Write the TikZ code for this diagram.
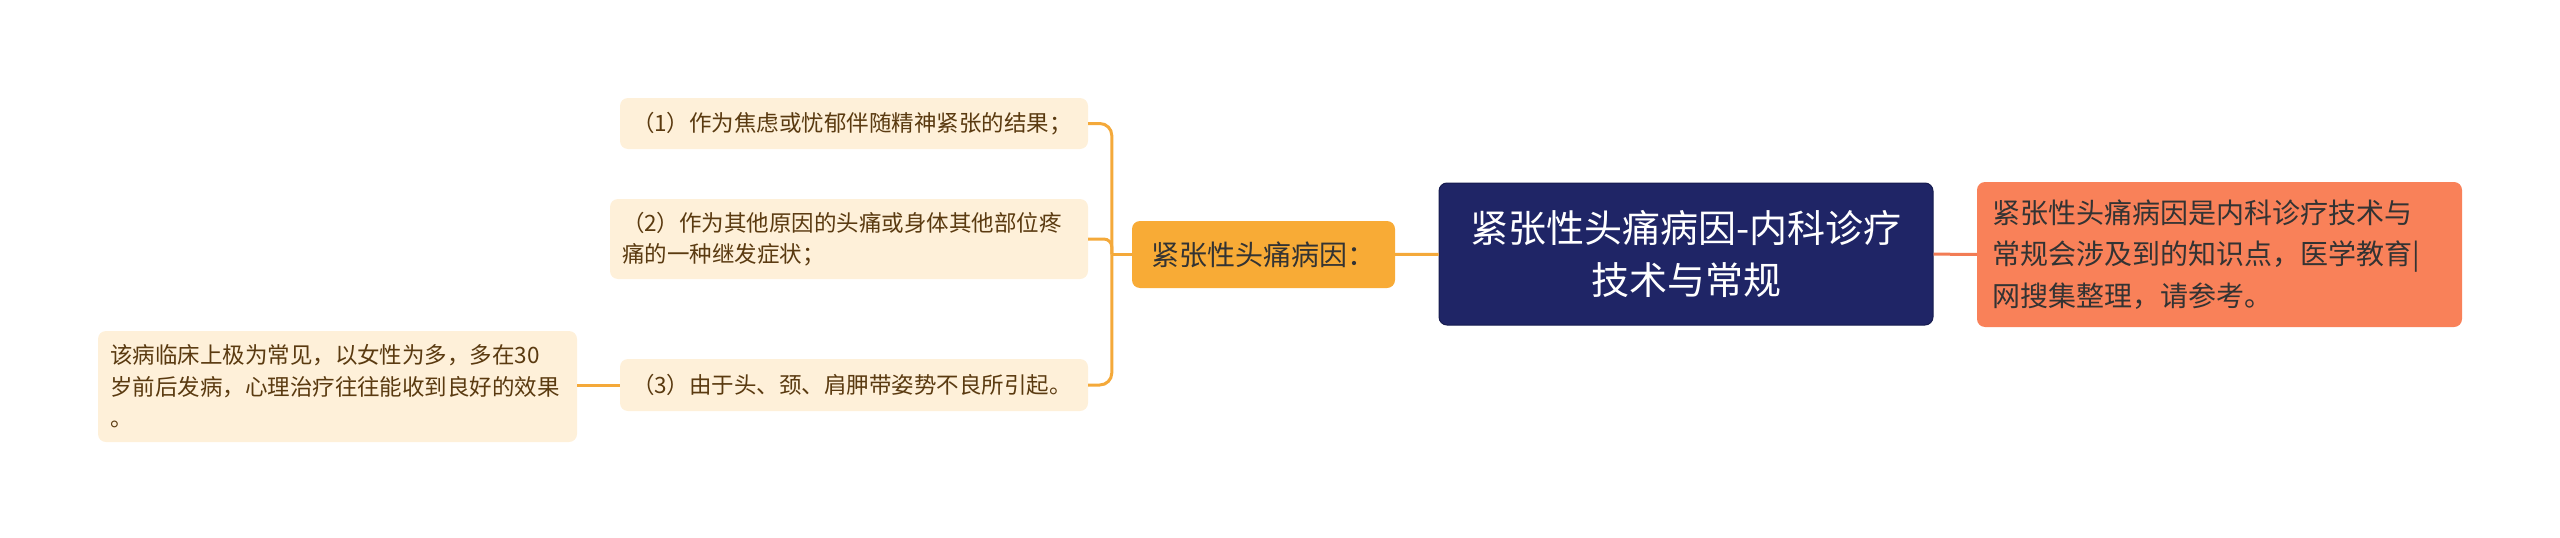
\documentclass[tikz,border=0pt]{standalone}
\usepackage{fontspec}
\newfontfamily\cjk{Noto Sans CJK SC}
\usetikzlibrary{positioning}

\definecolor{rootbg}{HTML}{1F2566}
\definecolor{rootbd}{HTML}{161B4F}
\definecolor{notebg}{HTML}{F98159}
\definecolor{midbg}{HTML}{F8AB36}
\definecolor{leafbg}{HTML}{FEF0D9}
\definecolor{leaftxt}{HTML}{5A3A10}
\definecolor{darktxt}{HTML}{333333}
\definecolor{lineor}{HTML}{F4A93A}
\definecolor{linecor}{HTML}{F27C55}

\tikzset{
  rootbox/.style={fill=rootbg, draw=rootbd, line width=1pt, rounded corners=8pt, text=white,
    font=\cjk\fontsize{38}{52}\selectfont, align=center, inner sep=0pt,
    minimum width=494pt, minimum height=142pt},
  notebox/.style={fill=notebg, rounded corners=8pt, text=darktxt,
    font=\cjk\fontsize{28}{41.5}\selectfont, align=left, inner xsep=15pt, inner ysep=0pt,
    text width=455pt, minimum height=145pt},
  midbox/.style={fill=midbg, rounded corners=8pt, text=darktxt,
    font=\cjk\fontsize{28}{36}\selectfont, inner sep=0pt,
    minimum width=263pt, minimum height=67pt},
  leaf/.style={fill=leafbg, rounded corners=8pt, text=leaftxt,
    font=\cjk\fontsize{22.5}{31.5}\selectfont, align=left, inner xsep=12pt, inner ysep=0pt},
  link/.style={draw=lineor, line width=3pt},
}

\begin{document}
\begin{tikzpicture}[x=1pt, y=-1pt]
        \useasboundingbox (0,0) rectangle (2560,538);

        % centre and right
        \node[rootbox] (root) at (1686,254) {紧张性头痛病因-内科诊疗\\技术与常规};
        \node[notebox] (note) at (2219.5,254.5) {紧张性头痛病因是内科诊疗技术与\\常规会涉及到的知识点，医学教育|\\网搜集整理，请参考。};
        \node[midbox] (mid) at (1263.5,254.5) {紧张性头痛病因：};

        % causes
        \node[leaf, text width=444pt, minimum height=51pt] (c1) at (854,123.5) {（1）作为焦虑或忧郁伴随精神紧张的结果；};
        \node[leaf, text width=454pt, minimum height=80pt] (c2) at (849,239) {（2）作为其他原因的头痛或身体其他部位疼\\痛的一种继发症状；};
        \node[leaf, text width=444pt, minimum height=52pt] (c3) at (854,385) {（3）由于头、颈、肩胛带姿势不良所引起。};
        \node[leaf, text width=455pt, minimum height=111pt] (info) at (337.5,386.5) {该病临床上极为常见，以女性为多，多在30\\岁前后发病，心理治疗往往能收到良好的效果\\。};

        % connectors
        \draw[link, draw=linecor] (root) -- (note);
        \draw[link] (root) -- (mid);
        \draw[link] (mid.west) -- ++(-20,0) coordinate (trunk);
        \draw[link, rounded corners=12pt] (trunk) |- (c1.east);
        \draw[link, rounded corners=8pt] (trunk) |- (c2.east);
        \draw[link, rounded corners=12pt] (trunk) |- (c3.east);
        \draw[link] (c3.west) -- (info.east |- c3.west);
    \end{tikzpicture}
\end{document}
